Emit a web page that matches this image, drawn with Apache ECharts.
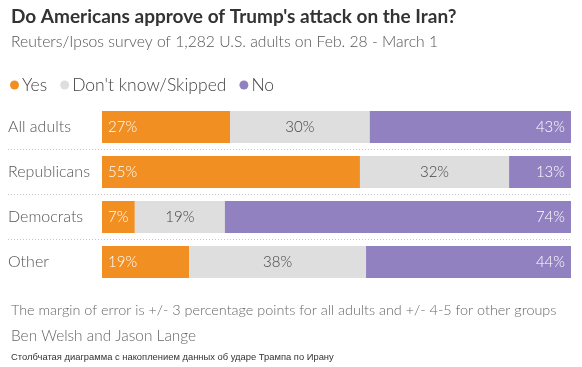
<!DOCTYPE html>
<html>
<head>
<meta charset="utf-8">
<script src="https://cdn.jsdelivr.net/npm/echarts@6/dist/echarts.min.js"></script>
<style>
html,body{margin:0;padding:0;background:#fff;}
#c{width:582px;height:367px;}
</style>
</head>
<body>
<div id="c"></div>
<script>
const categories = ['All adults', 'Republicans', 'Democrats', 'Other'];
const yesValues = [27.3, 55.0, 7.0, 18.6];
const dontKnowValues = [29.8, 31.8, 19.2, 37.7];
const noValues = [42.9, 13.2, 73.8, 43.7];
const seriesNames = ['Yes', "Don't know/Skipped", 'No'];

const FONT = 'Lato, "Open Sans", sans-serif';
const chart = echarts.init(document.getElementById('c'), null, {renderer: 'canvas'});

function pct(p) { return Math.round(p.value) + '%'; }

const gridTop = 104.5, gridH = 180;

chart.setOption({
  animation: false,
  backgroundColor: '#ffffff',
  title: [
    {
      text: "Do Americans approve of Trump's attack on the Iran?",
      left: 6, top: 2,
      textStyle: {fontFamily: FONT, fontSize: 19, fontWeight: 'bold', color: '#333333'}
    },
    {
      text: 'Reuters/Ipsos survey of 1,282 U.S. adults on Feb. 28 - March 1',
      left: 6, top: 29,
      textStyle: {fontFamily: FONT, fontSize: 15.7, fontWeight: 300, color: '#555555'}
    },
    {
      text: 'The margin of error is +/- 3 percentage points for all adults and +/- 4-5 for other groups',
      left: 6, top: 298,
      textStyle: {fontFamily: FONT, fontSize: 14.4, fontWeight: 300, color: '#666666'}
    },
    {
      text: 'Ben Welsh and Jason Lange',
      left: 6, top: 324,
      textStyle: {fontFamily: FONT, fontSize: 15.4, fontWeight: 300, color: '#666666'}
    },
    {
      text: 'Столбчатая диаграмма с накоплением данных об ударе Трампа по Ирану',
      left: 6, top: 348,
      textStyle: {fontFamily: '"Liberation Sans", Arial, sans-serif', fontSize: 9.4, fontWeight: 'normal', color: '#333333'}
    }
  ],
  legend: {
    left: 5, top: 71,
    icon: 'circle', itemWidth: 9, itemHeight: 9, itemGap: 13,
    textStyle: {fontFamily: FONT, fontSize: 17.5, fontWeight: 300, color: '#444444', padding: [0, 0, 0, -2]},
    data: seriesNames
  },
  grid: [
    {left: 8, right: 11, top: gridTop, height: gridH},
    {left: 102, right: 11, top: gridTop, height: gridH}
  ],
  xAxis: [
    {type: 'value', gridIndex: 0, show: false, min: 0, max: 100},
    {type: 'value', gridIndex: 1, show: false, min: 0, max: 100}
  ],
  yAxis: [
    {
      type: 'category', gridIndex: 0, inverse: true, data: categories,
      axisLine: {show: false}, axisTick: {show: false},
      axisLabel: {inside: true, margin: 0, fontFamily: FONT, fontSize: 16, fontWeight: 300, color: '#555555'},
      splitLine: {show: true, showMinLine: false, showMaxLine: false,
        lineStyle: {color: '#c8c8c8', type: [1, 2], width: 1}}
    },
    {
      type: 'category', gridIndex: 1, inverse: true, data: categories, show: false
    }
  ],
  series: [
    {
      name: seriesNames[0], type: 'bar', stack: 'total', xAxisIndex: 1, yAxisIndex: 1,
      barWidth: 32, data: yesValues,
      itemStyle: {color: '#f28f22'},
      label: {show: true, position: 'insideLeft', distance: 6, formatter: pct,
        fontFamily: FONT, fontSize: 15, fontWeight: 300, color: '#ffffff'}
    },
    {
      name: seriesNames[1], type: 'bar', stack: 'total', xAxisIndex: 1, yAxisIndex: 1,
      barWidth: 32, data: dontKnowValues,
      itemStyle: {color: '#dedede'},
      label: {show: true, position: 'inside', formatter: pct,
        fontFamily: FONT, fontSize: 15, fontWeight: 300, color: '#444444'}
    },
    {
      name: seriesNames[2], type: 'bar', stack: 'total', xAxisIndex: 1, yAxisIndex: 1,
      barWidth: 32, data: noValues,
      itemStyle: {color: '#9281c0'},
      label: {show: true, position: 'insideRight', distance: 6, formatter: pct,
        fontFamily: FONT, fontSize: 15, fontWeight: 300, color: '#ffffff'}
    }
  ]
});
</script>
</body>
</html>
